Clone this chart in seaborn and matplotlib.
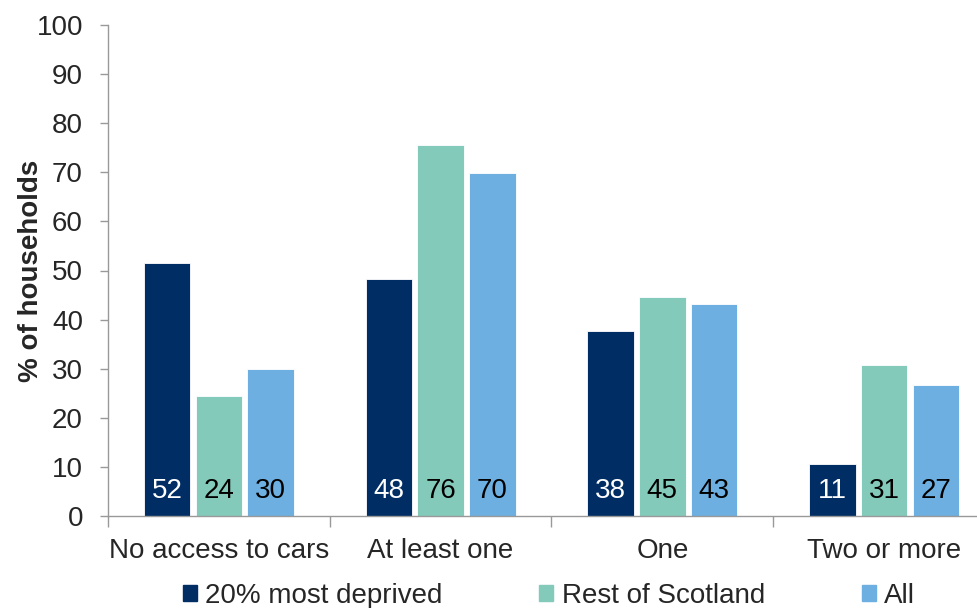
import pandas as pd
import matplotlib
matplotlib.use('Agg')
import matplotlib.pyplot as plt
import seaborn as sns

categories = ['No access to cars', 'At least one', 'One', 'Two or more']
groups = ['20% most deprived', 'Rest of Scotland', 'All']
most_deprived = [51.6, 48.2, 37.6, 10.6]
rest_of_scotland = [24.4, 75.5, 44.7, 30.7]
all_households = [30.0, 69.9, 43.2, 26.6]
colors = ['#002D64', '#84CABB', '#6CAFE0']
label_colors = ['white', 'black', 'black']

df = pd.DataFrame({
    'category': categories * 3,
    'group': [g for g in groups for _ in categories],
    'value': most_deprived + rest_of_scotland + all_households,
})

sns.set_style('white')
plt.rcParams['font.family'] = ['Liberation Sans', 'DejaVu Sans']
fs = 20

fig = plt.figure(figsize=(9.78, 6.08), dpi=100)
ax = fig.add_axes([108 / 978, 1 - 516 / 608, 887 / 978, 491 / 608])

sns.barplot(data=df, x='category', y='value', hue='group', order=categories,
            hue_order=groups, palette=colors, width=0.70, gap=0.1,
            edgecolor='white', linewidth=0.6, saturation=1, ax=ax)

# value labels sitting at the bottom of each bar
for cont, tc in zip(ax.containers, label_colors):
    for bar in cont:
        ax.text(bar.get_x() + bar.get_width() / 2, 5.1, f'{bar.get_height():.0f}',
                ha='center', va='center', color=tc, fontsize=fs)

ax.set_xlim(-0.5, 3.5)
ax.set_ylim(0, 100)
ax.set_yticks(range(0, 101, 10))
ax.tick_params(axis='y', left=True, length=6, width=1, color='#999999', labelsize=fs, pad=12)
ax.set_xticks(range(len(categories)))
ax.set_xticks([i - 0.5 for i in range(len(categories) + 1)], minor=True)
ax.tick_params(axis='x', which='major', bottom=True, length=0, labelsize=fs, pad=16)
ax.tick_params(axis='x', which='minor', bottom=True, length=8, width=1, color='#999999')
ax.set_xlabel('')
ax.set_ylabel('% of households', fontsize=fs, fontweight='bold')
ax.yaxis.set_label_coords(-0.072, 0.5)

for s in ['top', 'right']:
    ax.spines[s].set_visible(False)
for s in ['left', 'bottom']:
    ax.spines[s].set_color('#999999')
    ax.spines[s].set_linewidth(1)

ax.legend_.remove()
handles = [plt.Rectangle((0, 0), 1, 1, color=c) for c in colors]
fig.legend(handles, groups, loc='center', bbox_to_anchor=(549 / 978, 1 - 596 / 608), ncol=3,
           frameon=False, fontsize=fs, handlelength=0.5, handleheight=0.5,
           handletextpad=0.3, columnspacing=3.5, borderaxespad=0, borderpad=0)

fig.savefig('out.png', dpi=100)
